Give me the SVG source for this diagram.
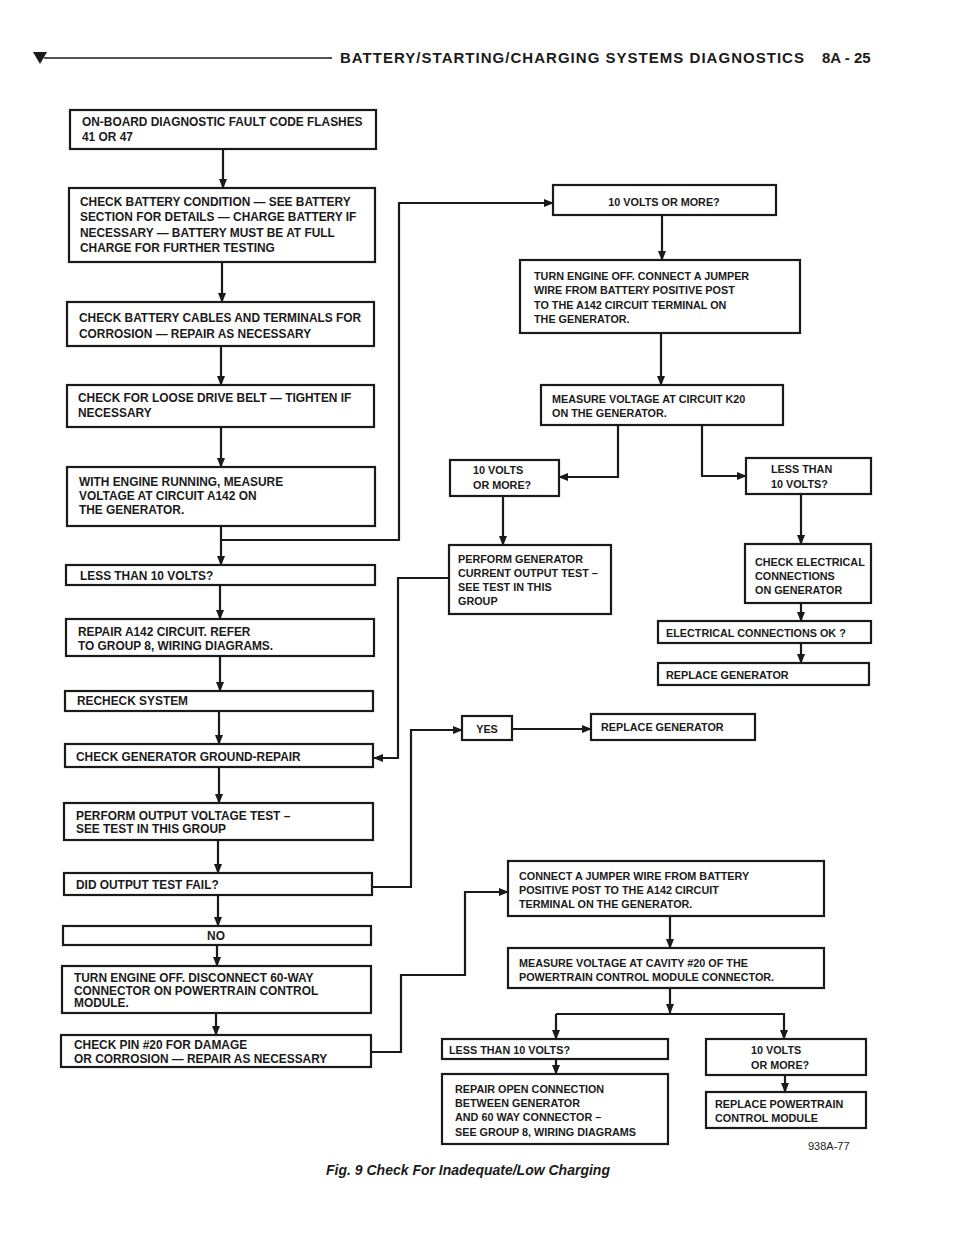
<svg xmlns="http://www.w3.org/2000/svg" width="960" height="1242" viewBox="0 0 960 1242">
<style>
.b{fill:#fff;stroke:#1a1a1a;stroke-width:2.2}
.t{font-family:"Liberation Sans",Arial,sans-serif;font-weight:bold;font-size:10.8px;fill:#1a1a1a}
.L .t{font-size:11.9px}
.c{fill:none;stroke:#1a1a1a;stroke-width:2.2}
</style>
<defs><marker id="a" markerWidth="10" markerHeight="8" refX="9" refY="4" orient="auto" markerUnits="userSpaceOnUse"><path d="M0,0L10,4L0,8z" fill="#1a1a1a"/></marker></defs>
<rect width="960" height="1242" fill="#fff"/>
<g id="header">
<path d="M33,52L47,52L40,64z" fill="#1a1a1a"/>
<line x1="44" y1="58" x2="332" y2="58" stroke="#1a1a1a" stroke-width="1.5"/>
<text x="340" y="63" font-family="Liberation Sans,Arial,sans-serif" font-weight="bold" font-size="15" fill="#1a1a1a" textLength="464">BATTERY/STARTING/CHARGING SYSTEMS DIAGNOSTICS</text>
<text x="822" y="63" font-family="Liberation Sans,Arial,sans-serif" font-weight="bold" font-size="15" fill="#1a1a1a">8A - 25</text>
</g>
<g id="connectors">
<path class="c" marker-end="url(#a)" d="M223,149V188"/>
<path class="c" marker-end="url(#a)" d="M222,262V302"/>
<path class="c" marker-end="url(#a)" d="M221,346V385"/>
<path class="c" marker-end="url(#a)" d="M221,427V467"/>
<path class="c" marker-end="url(#a)" d="M221,526V565"/>
<path class="c" marker-end="url(#a)" d="M221,540H399V203H553"/>
<path class="c" marker-end="url(#a)" d="M220,585V619"/>
<path class="c" marker-end="url(#a)" d="M220,656V691"/>
<path class="c" marker-end="url(#a)" d="M219,711V744"/>
<path class="c" marker-end="url(#a)" d="M449,578H398V758H374"/>
<path class="c" marker-end="url(#a)" d="M219,767V803"/>
<path class="c" marker-end="url(#a)" d="M218,840V873"/>
<path class="c" marker-end="url(#a)" d="M372,887H411V730H462"/>
<path class="c" marker-end="url(#a)" d="M512,729H591"/>
<path class="c" marker-end="url(#a)" d="M218,895V926"/>
<path class="c" marker-end="url(#a)" d="M217,945V966"/>
<path class="c" marker-end="url(#a)" d="M216,1013V1035"/>
<path class="c" marker-end="url(#a)" d="M371,1052H401V975H465V892H508"/>
<path class="c" marker-end="url(#a)" d="M662,215V260"/>
<path class="c" marker-end="url(#a)" d="M661,333V385"/>
<path class="c" marker-end="url(#a)" d="M618,425V477H559"/>
<path class="c" marker-end="url(#a)" d="M702,425V476H746"/>
<path class="c" marker-end="url(#a)" d="M503,496V545"/>
<path class="c" marker-end="url(#a)" d="M801,494V544"/>
<path class="c" marker-end="url(#a)" d="M801,603V621"/>
<path class="c" marker-end="url(#a)" d="M801,643V663"/>
<path class="c" marker-end="url(#a)" d="M670,916V948"/>
<path class="c" marker-end="url(#a)" d="M670,988V1013"/>
<path class="c" marker-end="url(#a)" d="M556,1014H784V1039"/>
<path class="c" marker-end="url(#a)" d="M556,1014V1039"/>
<path class="c" marker-end="url(#a)" d="M556,1059V1074"/>
<path class="c" marker-end="url(#a)" d="M785,1075V1092"/>
</g>
<g class="L">
<g id="n1"><rect class="b" x="70" y="110" width="306" height="39"/><text class="t" x="82" y="126">ON-BOARD DIAGNOSTIC FAULT CODE FLASHES</text><text class="t" x="82" y="141">41 OR 47</text></g>
<g id="n2"><rect class="b" x="69" y="188" width="306" height="74"/><text class="t" x="80" y="206">CHECK BATTERY CONDITION — SEE BATTERY</text><text class="t" x="80" y="221">SECTION FOR DETAILS — CHARGE BATTERY IF</text><text class="t" x="80" y="237">NECESSARY — BATTERY MUST BE AT FULL</text><text class="t" x="80" y="252">CHARGE FOR FURTHER TESTING</text></g>
<g id="n3"><rect class="b" x="67" y="302" width="307" height="44"/><text class="t" x="79" y="322">CHECK BATTERY CABLES AND TERMINALS FOR</text><text class="t" x="79" y="338">CORROSION — REPAIR AS NECESSARY</text></g>
<g id="n4"><rect class="b" x="67" y="385" width="307" height="42"/><text class="t" x="78" y="402">CHECK FOR LOOSE DRIVE BELT — TIGHTEN IF</text><text class="t" x="78" y="417">NECESSARY</text></g>
<g id="n5"><rect class="b" x="67" y="467" width="308" height="59"/><text class="t" x="79" y="486">WITH ENGINE RUNNING, MEASURE</text><text class="t" x="79" y="500">VOLTAGE AT CIRCUIT A142 ON</text><text class="t" x="79" y="514">THE GENERATOR.</text></g>
<g id="n6"><rect class="b" x="66" y="565" width="309" height="20"/><text class="t" x="80" y="580">LESS THAN 10 VOLTS?</text></g>
<g id="n7"><rect class="b" x="66" y="619" width="308" height="37"/><text class="t" x="78" y="636">REPAIR A142 CIRCUIT. REFER</text><text class="t" x="78" y="650">TO GROUP 8, WIRING DIAGRAMS.</text></g>
<g id="n8"><rect class="b" x="65" y="691" width="308" height="20"/><text class="t" x="77" y="705">RECHECK SYSTEM</text></g>
<g id="n9"><rect class="b" x="65" y="744" width="308" height="23"/><text class="t" x="76" y="761">CHECK GENERATOR GROUND-REPAIR</text></g>
<g id="n10"><rect class="b" x="64" y="803" width="309" height="37"/><text class="t" x="76" y="820">PERFORM OUTPUT VOLTAGE TEST –</text><text class="t" x="76" y="833">SEE TEST IN THIS GROUP</text></g>
<g id="n11"><rect class="b" x="64" y="873" width="308" height="22"/><text class="t" x="76" y="889">DID OUTPUT TEST FAIL?</text></g>
<g id="n12"><rect class="b" x="63" y="926" width="308" height="19"/><text class="t" x="216" y="940" text-anchor="middle">NO</text></g>
<g id="n13"><rect class="b" x="62" y="966" width="309" height="47"/><text class="t" x="74" y="982">TURN ENGINE OFF. DISCONNECT 60-WAY</text><text class="t" x="74" y="995">CONNECTOR ON POWERTRAIN CONTROL</text><text class="t" x="74" y="1007">MODULE.</text></g>
<g id="n14"><rect class="b" x="61" y="1035" width="310" height="32"/><text class="t" x="74" y="1049">CHECK PIN #20 FOR DAMAGE</text><text class="t" x="74" y="1063">OR CORROSION — REPAIR AS NECESSARY</text></g>
</g>
<g id="r1"><rect class="b" x="553" y="185" width="223" height="30"/><text class="t" x="664" y="206" text-anchor="middle">10 VOLTS OR MORE?</text></g>
<g id="r2"><rect class="b" x="520" y="260" width="280" height="73"/><text class="t" x="534" y="280">TURN ENGINE OFF. CONNECT A JUMPER</text><text class="t" x="534" y="294">WIRE FROM BATTERY POSITIVE POST</text><text class="t" x="534" y="309">TO THE A142 CIRCUIT TERMINAL ON</text><text class="t" x="534" y="323">THE GENERATOR.</text></g>
<g id="r3"><rect class="b" x="541" y="385" width="242" height="40"/><text class="t" x="552" y="403">MEASURE VOLTAGE AT CIRCUIT K20</text><text class="t" x="552" y="417">ON THE GENERATOR.</text></g>
<g id="r4"><rect class="b" x="450" y="460" width="109" height="36"/><text class="t" x="473" y="474">10 VOLTS</text><text class="t" x="473" y="489">OR MORE?</text></g>
<g id="r5"><rect class="b" x="746" y="458" width="125" height="36"/><text class="t" x="771" y="473">LESS THAN</text><text class="t" x="771" y="488">10 VOLTS?</text></g>
<g id="r6"><rect class="b" x="449" y="545" width="162" height="69"/><text class="t" x="458" y="563">PERFORM GENERATOR</text><text class="t" x="458" y="577">CURRENT OUTPUT TEST –</text><text class="t" x="458" y="591">SEE TEST IN THIS</text><text class="t" x="458" y="605">GROUP</text></g>
<g id="r7"><rect class="b" x="745" y="544" width="126" height="59"/><text class="t" x="755" y="566">CHECK ELECTRICAL</text><text class="t" x="755" y="580">CONNECTIONS</text><text class="t" x="755" y="594">ON GENERATOR</text></g>
<g id="r8"><rect class="b" x="658" y="621" width="213" height="22"/><text class="t" x="666" y="637">ELECTRICAL CONNECTIONS OK ?</text></g>
<g id="r9"><rect class="b" x="658" y="663" width="211" height="22"/><text class="t" x="666" y="679">REPLACE GENERATOR</text></g>
<g id="r10"><rect class="b" x="462" y="716" width="50" height="24"/><text class="t" x="487" y="733" text-anchor="middle">YES</text></g>
<g id="r11"><rect class="b" x="591" y="714" width="164" height="26"/><text class="t" x="601" y="731">REPLACE GENERATOR</text></g>
<g id="r12"><rect class="b" x="508" y="861" width="316" height="55"/><text class="t" x="519" y="880">CONNECT A JUMPER WIRE FROM BATTERY</text><text class="t" x="519" y="894">POSITIVE POST TO THE A142 CIRCUIT</text><text class="t" x="519" y="908">TERMINAL ON THE GENERATOR.</text></g>
<g id="r13"><rect class="b" x="508" y="948" width="316" height="40"/><text class="t" x="519" y="967">MEASURE VOLTAGE AT CAVITY #20 OF THE</text><text class="t" x="519" y="981">POWERTRAIN CONTROL MODULE CONNECTOR.</text></g>
<g id="r14"><rect class="b" x="442" y="1039" width="226" height="20"/><text class="t" x="449" y="1054">LESS THAN 10 VOLTS?</text></g>
<g id="r15"><rect class="b" x="442" y="1074" width="226" height="70"/><text class="t" x="455" y="1093">REPAIR OPEN CONNECTION</text><text class="t" x="455" y="1107">BETWEEN GENERATOR</text><text class="t" x="455" y="1121">AND 60 WAY CONNECTOR –</text><text class="t" x="455" y="1136">SEE GROUP 8, WIRING DIAGRAMS</text></g>
<g id="r16"><rect class="b" x="706" y="1039" width="160" height="36"/><text class="t" x="751" y="1054">10 VOLTS</text><text class="t" x="751" y="1069">OR MORE?</text></g>
<g id="r17"><rect class="b" x="706" y="1092" width="160" height="36"/><text class="t" x="715" y="1108">REPLACE POWERTRAIN</text><text class="t" x="715" y="1122">CONTROL MODULE</text></g>
<text x="808" y="1150" font-family="Liberation Sans,Arial,sans-serif" font-size="11" fill="#1a1a1a">938A-77</text>
<text x="468" y="1175" text-anchor="middle" font-family="Liberation Sans,Arial,sans-serif" font-weight="bold" font-style="italic" font-size="14" fill="#1a1a1a">Fig. 9 Check For Inadequate/Low Charging</text>
</svg>
